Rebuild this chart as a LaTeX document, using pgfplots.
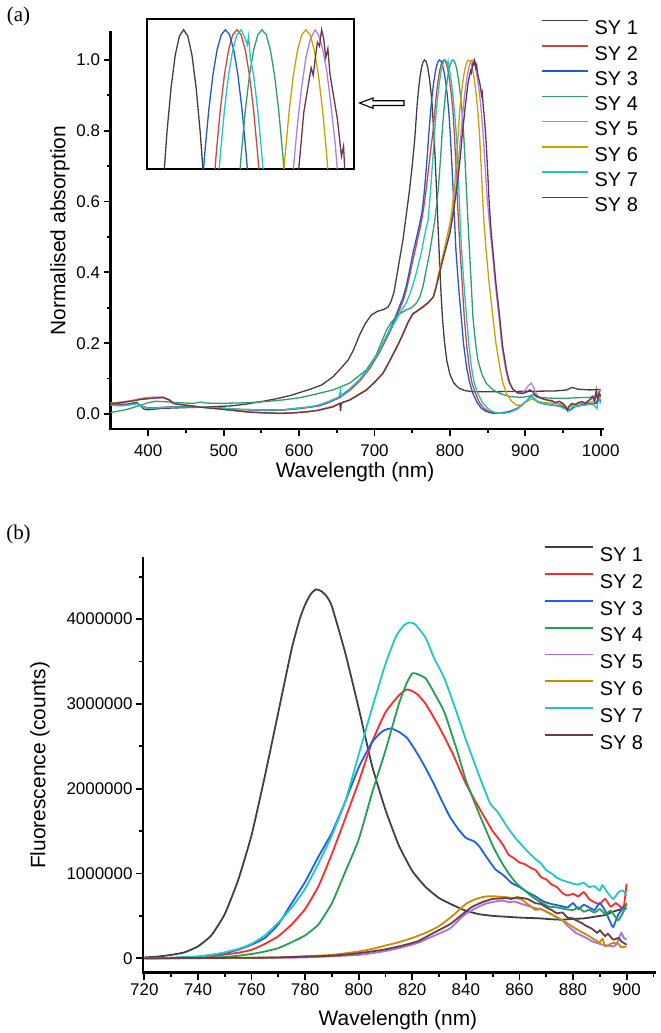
\documentclass[border=0pt]{standalone}
\usepackage{fontspec}
\setmainfont{Liberation Sans}
\newfontfamily\serifpanel{Liberation Serif}
\usepackage{pgfplots}
\usepackage{pgfplotstable}
\pgfplotsset{compat=1.18}

% absorption colours
\definecolor{c1}{HTML}{404040}
\definecolor{c2}{HTML}{D0453F}
\definecolor{c3}{HTML}{1F5BC8}
\definecolor{c4}{HTML}{2E9E6C}
\definecolor{c5}{HTML}{B080E0}
\definecolor{c6}{HTML}{C9A300}
\definecolor{c7}{HTML}{22C4C4}
\definecolor{c8}{HTML}{6E3448}
% fluorescence colours
\definecolor{d1}{HTML}{404040}
\definecolor{d2}{HTML}{FF2A2A}
\definecolor{d3}{HTML}{1F5FF0}
\definecolor{d4}{HTML}{22A052}
\definecolor{d5}{HTML}{A870E8}
\definecolor{d6}{HTML}{CC8A00}
\definecolor{d7}{HTML}{20C8C8}
\definecolor{d8}{HTML}{6A3E40}

% ---------------- normalised absorption spectra ----------------
\pgfplotstableread{
x y
350 0.030
360 0.028
370 0.027
380 0.031
385 0.033
390 0.022
395 0.013
400 0.012
410 0.014
420 0.016
435 0.017
450 0.018
470 0.019
490 0.021
510 0.023
530 0.028
550 0.035
570 0.043
590 0.053
600 0.060
615 0.070
630 0.082
645 0.105
655 0.128
665 0.152
672 0.180
680 0.222
688 0.256
696 0.280
704 0.290
712 0.295
718 0.302
722 0.318
726 0.345
730 0.395
734 0.445
738 0.495
742 0.560
746.5 0.633
750 0.700
753.3 0.774
755 0.825
756.5 0.872
758.5 0.918
760.5 0.954
762.5 0.980
764.5 0.995
766.5 1.000
768.5 0.995
770.5 0.980
772.5 0.954
774.5 0.918
776.5 0.872
778.5 0.800
780.5 0.720
782.5 0.620
784.5 0.520
786.5 0.420
788.5 0.330
790.5 0.260
793 0.200
796 0.150
800 0.112
805 0.088
812 0.073
820 0.066
830 0.063
860 0.063
900 0.064
940 0.065
955 0.068
962 0.075
970 0.070
985 0.068
1000 0.069
}\absA

\pgfplotstableread{
x y
350 0.026
365 0.025
380 0.029
385 0.031
390 0.023
400 0.017
420 0.019
440 0.021
460 0.021
480 0.019
500 0.016
520 0.013
540 0.011
560 0.010
580 0.011
601 0.015
615 0.019
627 0.023
640 0.033
654 0.046
667 0.066
680 0.092
694 0.129
707 0.175
720 0.230
727 0.262
733 0.293
738 0.320
742 0.348
746 0.385
751 0.435
756 0.482
761 0.530
765 0.578
768 0.625
771 0.680
774.5 0.745
778 0.804
780 0.856
782 0.900
784 0.936
786 0.964
788 0.984
790 0.996
792 1.000
794 0.996
796 0.984
798 0.964
800 0.936
802 0.900
804 0.856
806 0.790
808 0.700
810.5 0.580
813.5 0.463
816.5 0.360
819 0.275
822 0.200
825.5 0.134
829 0.090
834 0.058
839 0.033
845 0.016
852 0.007
860 0.003
868 0.002
880 0.008
890 0.017
898 0.030
903 0.040
908 0.050
912 0.043
916 0.036
925 0.030
935 0.026
950 0.022
956 0.013
959 0.011
965 0.021
975 0.026
985 0.029
994 0.031
997 0.042
1000 0.036
}\absB

\pgfplotstableread{
x y
350 0.025
365 0.024
380 0.028
385 0.030
390 0.022
400 0.016
420 0.018
440 0.020
460 0.020
480 0.019
500 0.016
520 0.013
540 0.012
560 0.011
580 0.012
601 0.017
615 0.020
627 0.025
640 0.035
654 0.049
667 0.070
680 0.096
694 0.134
707 0.180
720 0.237
727 0.270
733 0.303
738 0.330
742 0.360
746 0.400
751 0.454
756 0.500
761 0.548
763 0.570
765.5 0.615
768 0.675
770.5 0.744
772.5 0.804
774.5 0.856
776.5 0.900
778.5 0.936
780.5 0.964
782.5 0.984
784.5 0.996
786.5 1.000
788.5 0.996
790.5 0.984
792.5 0.964
794.5 0.936
796.5 0.900
798.5 0.856
800.5 0.790
802.5 0.710
805 0.600
808 0.463
811.5 0.360
815 0.275
818 0.200
822 0.134
826 0.090
830.5 0.058
836 0.033
841.6 0.016
848 0.007
857 0.002
867 0.002
880 0.007
890 0.015
897 0.028
901 0.035
905 0.045
908 0.049
912 0.042
916 0.034
925 0.028
935 0.025
950 0.021
956 0.013
959 0.010
965 0.020
975 0.025
985 0.028
994 0.030
997 0.045
1000 0.035
}\absC

\pgfplotstableread{
x y
350 0.004
360 0.008
370 0.012
380 0.018
390 0.025
400 0.032
410 0.036
420 0.035
440 0.032
460 0.030
470 0.034
475 0.031
490 0.030
520 0.031
550 0.034
580 0.040
601 0.046
620 0.055
645 0.068
667 0.087
689 0.124
702 0.165
716 0.237
722 0.258
729 0.275
735 0.285
742 0.294
749 0.300
755.5 0.313
760 0.330
764.3 0.360
768 0.400
773 0.454
776.5 0.500
780 0.548
783 0.600
785.5 0.660
788 0.735
790 0.804
792 0.856
794 0.900
796 0.936
798 0.964
800 0.984
802 0.996
804 1.000
806 0.996
808 0.984
810 0.964
812 0.936
814 0.900
816 0.856
818 0.800
820 0.720
822 0.630
825 0.500
828 0.380
830.5 0.275
834 0.200
837 0.153
842 0.115
848 0.087
856 0.070
866 0.058
880 0.049
895 0.047
905 0.050
910 0.055
915 0.048
930 0.045
950 0.044
970 0.046
985 0.047
995 0.050
1000 0.047
}\absD

\pgfplotstableread{
x y
350 0.031
365 0.034
380 0.039
390 0.044
400 0.047
410 0.048
420 0.048
428 0.041
434 0.031
451 0.025
470 0.019
490 0.015
513 0.010
535 0.005
557 0.002
575 0.001
592 0.003
610 0.006
625 0.011
645 0.022
667 0.040
689 0.068
700 0.089
711 0.114
718 0.141
725 0.170
732 0.199
738 0.226
745 0.260
751 0.282
758 0.292
764 0.301
771 0.313
778 0.330
782 0.362
786 0.400
791 0.440
795 0.475
800 0.520
804 0.570
808 0.640
811 0.700
813 0.755
815 0.800
817 0.850
819 0.890
821 0.926
823 0.955
825 0.978
827 0.992
829.4 1.000
831 0.996
833 0.985
835 0.967
837 0.940
839 0.910
841 0.870
843 0.820
845 0.760
847 0.690
849.5 0.610
852 0.548
856 0.463
860 0.370
865 0.275
869 0.190
874 0.125
878 0.090
883 0.070
890 0.058
896 0.060
900 0.068
904 0.080
908 0.087
911 0.075
915 0.055
920 0.045
930 0.038
940 0.033
950 0.028
956 0.015
960 0.025
970 0.030
980 0.033
990 0.045
995 0.060
1000 0.065
}\absE

\pgfplotstableread{
x y
350 0.030
365 0.033
380 0.038
390 0.042
400 0.044
410 0.046
420 0.047
428 0.040
434 0.030
451 0.025
470 0.020
490 0.016
513 0.011
535 0.006
557 0.003
575 0.002
592 0.003
610 0.006
625 0.010
645 0.021
667 0.040
689 0.068
700 0.090
711 0.115
718 0.142
725 0.171
732 0.200
738 0.228
745 0.262
751 0.284
758 0.294
764 0.303
771 0.315
778 0.331
782 0.365
786 0.407
791 0.450
795 0.490
801 0.548
804 0.600
806.5 0.650
809 0.730
811 0.790
813 0.856
815 0.900
817 0.936
819 0.964
821 0.984
823 0.996
825 1.000
827 0.996
829 0.984
831 0.964
833 0.936
835 0.900
837 0.856
839 0.800
841 0.720
843 0.630
845 0.548
848 0.463
852 0.370
857 0.275
861 0.200
866 0.134
870 0.090
875 0.058
881 0.038
888 0.025
895 0.025
900 0.033
906 0.040
910 0.042
915 0.036
925 0.032
940 0.030
950 0.025
956 0.018
962 0.025
975 0.030
990 0.035
995 0.050
1000 0.040
}\absF

\pgfplotstableread{
x y
350 0.024
365 0.023
380 0.027
385 0.029
390 0.021
400 0.016
420 0.018
440 0.020
460 0.020
480 0.019
500 0.016
520 0.013
540 0.012
560 0.011
580 0.012
601 0.017
615 0.020
627 0.026
640 0.036
650 0.045
653 0.048
655 0.068
656 0.050
658 0.053
667 0.070
680 0.096
694 0.134
707 0.180
720 0.237
729 0.266
735 0.290
742 0.313
748 0.345
753 0.379
758 0.420
762 0.454
766 0.500
771 0.548
774 0.620
777 0.710
780 0.804
782 0.856
784 0.900
786 0.936
788 0.964
790 0.984
792 0.996
794 1.000
796 0.993
797 0.988
797.6 0.995
798.4 0.978
800 0.964
802 0.936
804 0.900
806 0.856
808 0.804
810 0.740
812 0.630
813.5 0.548
815.5 0.463
818.5 0.370
822 0.275
825 0.200
828.4 0.134
832 0.090
837 0.058
843 0.033
850 0.016
856 0.007
864 0.002
872 0.002
880 0.005
890 0.015
898 0.030
903 0.040
908 0.050
912 0.043
918 0.033
930 0.027
945 0.022
955 0.012
958 0.008
962 0.020
975 0.024
990 0.028
995 0.015
997 0.045
1000 0.030
}\absG

\pgfplotstableread{
x y
350 0.029
365 0.032
380 0.037
390 0.041
400 0.043
410 0.045
420 0.046
428 0.039
434 0.029
451 0.024
470 0.019
490 0.015
513 0.010
535 0.005
557 0.003
575 0.002
592 0.003
610 0.006
625 0.010
645 0.020
652 0.028
654 0.030
655 0.008
656 0.030
658 0.033
667 0.039
689 0.067
700 0.089
711 0.114
718 0.141
725 0.170
732 0.199
738 0.227
745 0.261
751 0.283
758 0.293
764 0.302
771 0.314
778 0.330
782 0.360
786 0.395
790 0.430
795 0.470
800 0.510
804 0.560
808 0.620
811 0.670
814 0.730
816 0.780
818 0.820
820 0.862
822 0.898
824 0.935
826 0.955
827.5 0.970
828.5 0.964
829.5 0.978
830.5 0.990
831.5 0.987
832.5 1.000
833.5 0.993
834.5 0.978
835.5 0.985
836.5 0.965
838 0.950
840 0.930
842 0.900
843 0.908
844 0.875
846 0.830
848 0.770
850 0.690
852 0.600
854.5 0.520
857 0.463
861 0.370
866 0.275
870 0.190
875 0.125
879 0.090
883.5 0.070
890 0.060
897 0.058
902 0.062
906 0.068
910 0.062
915 0.050
920 0.045
928 0.040
935 0.038
940 0.032
945 0.036
950 0.030
954 0.018
956 0.010
958 0.022
962 0.030
966 0.026
970 0.032
975 0.035
980 0.030
985 0.040
989.5 0.050
992 0.035
994 0.068
996 0.040
998 0.060
1000 0.050
}\absH

% ---------------- fluorescence spectra (counts) ----------------
\pgfplotstableread{
x y
720 10000
725 20000
730 40000
735 70000
740 140000
745 270000
750 520000
755 920000
760 1450000
765 2150000
770 2900000
775 3650000
778 4000000
780 4170000
782 4290000
784 4350000
786 4330000
788 4270000
790 4150000
795 3600000
800 2950000
805 2270000
810 1750000
815 1330000
820 1030000
825 840000
830 710000
835 630000
840 560000
845 520000
850 500000
855 490000
860 480000
864 475000
868 470000
872 460000
876 455000
880 465000
884 470000
888 490000
892 510000
895 550000
898 580000
900 640000
}\flA

\pgfplotstableread{
x y
720 0
730 3000
740 15000
745 25000
750 45000
755 65000
760 100000
765 170000
770 260000
775 400000
780 580000
785 850000
790 1230000
795 1650000
800 2080000
805 2550000
810 2900000
815 3100000
818 3170000
820 3150000
822 3110000
825 3000000
830 2730000
835 2420000
840 2060000
845 1770000
850 1500000
852 1420000
854 1330000
856 1220000
858 1180000
860 1130000
862 1110000
864 1070000
866 1040000
868 960000
870 930000
872 870000
874 840000
876 770000
878 740000
880 760000
882 730000
884 780000
886 700000
888 660000
890 640000
892 700000
894 610000
896 650000
898 600000
899 620000
900 880000
}\flB

\pgfplotstableread{
x y
720 0
730 5000
740 20000
745 40000
750 60000
755 100000
760 160000
765 240000
770 400000
775 650000
780 900000
785 1200000
790 1480000
795 1850000
800 2250000
805 2550000
809 2680000
812 2710000
815 2670000
818 2600000
821 2460000
824 2300000
828 2060000
831 1860000
834 1670000
837 1530000
840 1420000
843 1380000
845 1320000
848 1180000
851 1050000
854 980000
857 890000
860 840000
863 780000
866 730000
869 670000
872 640000
875 620000
878 600000
880 650000
882 580000
884 630000
886 600000
888 570000
890 650000
892 560000
894 420000
895 370000
897 520000
899 600000
900 580000
}\flC

\pgfplotstableread{
x y
720 0
740 5000
750 15000
755 30000
760 50000
765 80000
770 120000
775 190000
780 270000
785 400000
790 650000
795 1020000
800 1400000
805 1950000
810 2450000
815 3000000
818 3250000
820 3360000
822 3350000
825 3300000
828 3140000
832 2900000
837 2420000
840 2100000
845 1700000
850 1330000
853 1150000
856 1000000
859 880000
862 800000
865 720000
868 660000
871 610000
874 600000
877 580000
880 570000
882 600000
884 550000
886 570000
888 540000
890 580000
892 520000
894 560000
896 480000
897 450000
899 560000
900 650000
}\flD

\pgfplotstableread{
x y
720 0
760 3000
780 10000
800 40000
809 80000
815 120000
822 180000
827 250000
834 350000
839 500000
843 580000
847 640000
851 670000
854 680000
856 660000
858 670000
860 650000
862 630000
864 610000
866 590000
868 580000
870 550000
872 520000
874 480000
876 450000
878 380000
880 330000
881 300000
883 270000
885 240000
887 200000
889 180000
891 160000
893 150000
895 140000
896 160000
897 220000
898 300000
899 240000
900 220000
}\flE

\pgfplotstableread{
x y
720 0
740 2000
760 5000
770 10000
780 25000
790 40000
800 80000
805 110000
810 150000
815 190000
820 240000
825 300000
830 380000
835 500000
840 640000
843 690000
846 720000
848 730000
851 730000
855 720000
858 710000
861 690000
863 640000
864 620000
866 570000
868 580000
870 550000
873 500000
876 450000
879 390000
882 330000
885 280000
887 240000
888 220000
890 190000
891 230000
892 140000
894 170000
895 180000
897 170000
898 130000
900 140000
}\flF

\pgfplotstableread{
x y
720 0
730 5000
740 20000
745 40000
750 70000
755 110000
760 170000
765 270000
770 420000
775 600000
780 820000
785 1120000
790 1450000
795 1850000
800 2400000
805 2950000
810 3470000
814 3800000
817 3930000
819 3960000
821 3940000
825 3780000
828 3550000
832 3300000
836 2950000
840 2580000
845 2150000
849 1830000
852 1720000
855 1570000
857 1480000
859 1400000
861 1330000
863 1260000
865 1200000
866.4 1160000
868 1120000
870 1040000
872 1000000
874 950000
876 920000
878 900000
880 880000
882 870000
884 890000
886 840000
888 850000
890 800000
891 860000
893 770000
895 700000
897 780000
898.6 800000
900 740000
}\flG

\pgfplotstableread{
x y
720 0
750 5000
770 10000
790 30000
800 60000
809 100000
815 140000
822 200000
828 300000
834 400000
838 500000
842 600000
846 660000
850 700000
853 705000
855 710000
857 700000
859 720000
861 710000
863 700000
866 650000
868 640000
870 600000
872 570000
874 530000
876 540000
878 480000
880 470000
881 450000
883 420000
885 380000
887 350000
889 300000
890 330000
892 260000
893 290000
895 220000
897 240000
898 200000
900 160000
}\flH

\pgfplotsset{
  panel/.style={
    scale only axis,
    axis x line*=bottom,
    axis y line*=left,
    axis line style={line width=2.4bp, line cap=rect},
    every tick/.style={black, line width=1.8bp},
    tick align=outside,
    major tick length=7bp,
    minor tick length=4bp,
    tick label style={font=\fontsize{17}{19}\selectfont},
    label style={font=\fontsize{21}{23}\selectfont},
    /pgf/number format/assume math mode=true,
    /pgf/number format/1000 sep={},
    legend cell align=left,
    legend style={draw=none, fill=none, anchor=north west,
      font=\fontsize{20}{22}\selectfont,
      nodes={inner sep=0pt, text height=14.3bp, text depth=0bp},
      /tikz/every odd column/.style={column sep=6bp}},
  },
}

\begin{document}
\begin{tikzpicture}[x=1bp,y=1bp]
\path[use as bounding box] (0bp,0bp) rectangle (661bp,1033bp);

% ---------- panel (a): absorption ----------
\begin{axis}[panel,
  at={(110.5bp,604bp)}, anchor=south west,
  width=492.5bp, height=397bp,
  xmin=350, xmax=1003, ymin=-0.0424, ymax=1.079,
  xtick={400,500,600,700,800,900,1000},
  minor xtick={450,550,650,750,850,950},
  ytick={0,0.2,0.4,0.6,0.8,1},
  minor ytick={0.1,0.3,0.5,0.7,0.9},
  xticklabel style={yshift=-5bp},
  yticklabel style={/pgf/number format/fixed, /pgf/number format/fixed zerofill, /pgf/number format/precision=1},
  xlabel={Wavelength (nm)},
  ylabel={Normalised absorption},
  xlabel style={at={(axis description cs:0.4965,-0.108)}, anchor=center},
  ylabel style={at={(axis description cs:-0.1025,0.5)}, anchor=center},
  legend style={at={(0.868,1.036)}, row sep=10.2bp},
  legend image code/.code={\draw[#1, line width=1.5bp] (0bp,7.15bp) -- (46bp,7.15bp);},
  every axis plot/.append style={line width=1.3bp},
]
\addplot[c1] table {\absA}; \addlegendentry{SY 1}
\addplot[c2] table {\absB}; \addlegendentry{SY 2}
\addplot[c3] table {\absC}; \addlegendentry{SY 3}
\addplot[c4] table {\absD}; \addlegendentry{SY 4}
\addplot[c5] table {\absE}; \addlegendentry{SY 5}
\addplot[c6] table {\absF}; \addlegendentry{SY 6}
\addplot[c7] table {\absG}; \addlegendentry{SY 7}
\addplot[c8] table {\absH}; \addlegendentry{SY 8}
\end{axis}

% magnified view of the absorption maxima
\begin{axis}[
  at={(147bp,864bp)}, anchor=south west, scale only axis,
  width=207bp, height=150bp,
  xmin=749, xmax=848, ymin=0.89, ymax=1.0085,
  xtick=\empty, ytick=\empty,
  axis line style={line width=1.3bp},
  every axis plot/.append style={line width=1.3bp},
]
\addplot[c1] table {\absA};
\addplot[c2] table {\absB};
\addplot[c3] table {\absC};
\addplot[c4] table {\absD};
\addplot[c5] table {\absE};
\addplot[c6] table {\absF};
\addplot[c7] table {\absG};
\addplot[c8] table {\absH};
\end{axis}

% hollow pointer towards the magnified view
\draw[line width=1.1bp, fill=white] (359.5,930) -- (373,935) -- (373,932.2) -- (404,932.2)
  -- (404,927.5) -- (373,927.5) -- (373,924.7) -- cycle;

\node[font=\serifpanel\fontsize{21}{23}\selectfont] at (18.5,1017) {(a)};

% ---------- panel (b): fluorescence ----------
\begin{axis}[panel,
  at={(143bp,60.3bp)}, anchor=south west,
  width=512bp, height=414.7bp,
  xmin=719.5, xmax=910.6, ymin=-170000, ymax=4720000,
  xtick={720,740,760,780,800,820,840,860,880,900},
  minor xtick={730,750,770,790,810,830,850,870,890,910},
  ytick={0,1000000,2000000,3000000,4000000},
  minor ytick={500000,1500000,2500000,3500000,4500000},
  scaled y ticks=false,
  yticklabel style={/pgf/number format/fixed},
  xlabel={Wavelength (nm)},
  ylabel={Fluorescence (counts)},
  xlabel style={at={(axis description cs:0.498,-0.114)}, anchor=center},
  ylabel style={at={(axis description cs:-0.201,0.5)}, anchor=center},
  legend style={at={(0.777,1.0333)}, row sep=11.6bp},
  legend image code/.code={\draw[#1] (0bp,7.15bp) -- (48bp,7.15bp);},
  every axis plot/.append style={line width=1.8bp, smooth, tension=0.3},
]
\addplot[d1] table {\flA}; \addlegendentry{SY 1}
\addplot[d2] table {\flB}; \addlegendentry{SY 2}
\addplot[d3] table {\flC}; \addlegendentry{SY 3}
\addplot[d4] table {\flD}; \addlegendentry{SY 4}
\addplot[d5] table {\flE}; \addlegendentry{SY 5}
\addplot[d6] table {\flF}; \addlegendentry{SY 6}
\addplot[d7] table {\flG}; \addlegendentry{SY 7}
\addplot[d8] table {\flH}; \addlegendentry{SY 8}
\end{axis}

\node[font=\serifpanel\fontsize{21}{23}\selectfont] at (18.5,499) {(b)};
\end{tikzpicture}
\end{document}
